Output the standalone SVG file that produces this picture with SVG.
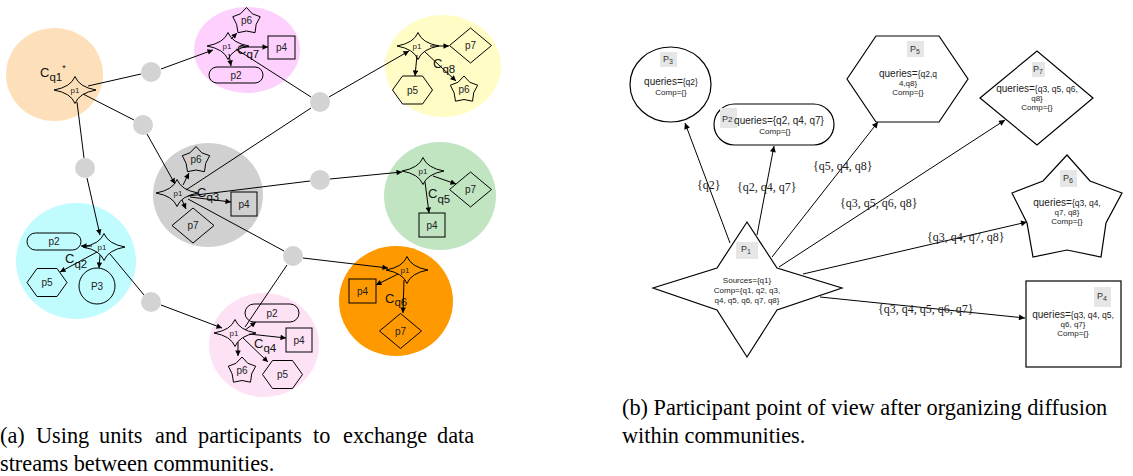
<svg xmlns="http://www.w3.org/2000/svg" xmlns:xlink="http://www.w3.org/1999/xlink" width="1133" height="476" viewBox="0 0 1133 476">
<style>
.sh{fill:none;stroke:#000;stroke-width:1}
.shb{fill:#fff;stroke:#000;stroke-width:1.2}
.ln{fill:none;stroke:#000;stroke-width:1}
.dot{fill:#d3d3d3}
.t8{font-family:"Liberation Sans",Arial,sans-serif;font-size:8px;text-anchor:middle;fill:#222}
.t10{font-family:"Liberation Sans",Arial,sans-serif;font-size:10px;text-anchor:middle;fill:#222}
.cl{font-family:"Liberation Sans",Arial,sans-serif;font-size:13px;fill:#111}
.sub{font-size:11.5px}
.q{font-family:"Liberation Sans",Arial,sans-serif;font-size:10px;text-anchor:middle;fill:#222}
.s{font-size:8.5px}
.cp{font-family:"Liberation Sans",Arial,sans-serif;font-size:8px;text-anchor:middle;fill:#222}
.lb{fill:#e6e6e6}
.pl{font-family:"Liberation Sans",Arial,sans-serif;font-size:9px;fill:#333}
.el{font-family:"Liberation Serif","Times New Roman",serif;font-size:12px;fill:#222}
.cap{font-family:"Liberation Serif","Times New Roman",serif;font-size:22.3px;fill:#000}
</style>
<defs>
<marker id="ar" viewBox="0 0 10 10" refX="10" refY="5" markerWidth="7" markerHeight="5.5" markerUnits="userSpaceOnUse" orient="auto"><path d="M0,0 L10,5 L0,10 Z" fill="#000"/></marker>
<marker id="arb" viewBox="0 0 10 10" refX="10" refY="5" markerWidth="9" markerHeight="6" markerUnits="userSpaceOnUse" orient="auto"><path d="M0,0 L10,5 L0,10 Z" fill="#000"/></marker>
<path id="star4" d="M-21,0 Q-4,-3 0,-13.5 Q4,-3 21,0 Q4,3 0,13.5 Q-4,3 -21,0 Z"/>
<path id="star5" d="M0,-13.5 L5.8,-7.2 L13.7,-4.3 L9.7,3.3 L8.5,11.7 L0,10 L-8.5,11.7 L-9.9,3.3 L-13.7,-4.3 L-6,-7.2 Z"/>
<path id="hex" d="M-20,0 L-10,-14 L10,-14 L20,0 L10,14 L-10,14 Z"/>
<path id="dia" d="M-21,0 L0,-17.5 L21,0 L0,17.5 Z"/>
</defs>

<!-- (a) communities -->
<g id="cq1">
<ellipse cx="54.5" cy="74.5" rx="48.5" ry="46.5" fill="#fde0b9"/>
<g id="cq1-p1"><use xlink:href="#star4" x="75" y="90" class="sh"/><text class="t8" x="75" y="93">p1</text></g>
<text class="cl" x="40" y="77">C<tspan class="sub" dy="4">q1</tspan><tspan font-size="9" dy="-10">*</tspan></text>
</g>

<g id="cq7">
<ellipse cx="247" cy="50" rx="53" ry="43" fill="#fdd0fd"/>
<g id="cq7-p1"><use xlink:href="#star4" x="228" y="46" class="sh"/><text class="t8" x="227" y="49">p1</text></g>
<g id="cq7-p6"><use xlink:href="#star5" x="246.5" y="21" class="sh"/><text class="t10" x="246.5" y="24">p6</text></g>
<g id="cq7-p4"><rect x="268" y="36" width="27" height="23" class="sh"/><text class="t10" x="281.5" y="51">p4</text></g>
<g id="cq7-p2"><rect x="209" y="67" width="54" height="16" rx="8" class="sh"/><text class="t10" x="236" y="79">p2</text></g>
<text class="cl" x="237" y="54">C<tspan class="sub" dy="4">q7</tspan></text>
</g>

<g id="cq8">
<ellipse cx="443" cy="66" rx="58" ry="51" fill="#fffcc5"/>
<g id="cq8-p1"><use xlink:href="#star4" x="418" y="46" class="sh"/><text class="t8" x="417" y="49">p1</text></g>
<g id="cq8-p7"><use xlink:href="#dia" x="470.5" y="45.5" class="sh"/><text class="t10" x="470.5" y="49">p7</text></g>
<g id="cq8-p5"><use xlink:href="#hex" x="412.5" y="90" class="sh"/><text class="t10" x="412.5" y="93.5">p5</text></g>
<g id="cq8-p6"><use xlink:href="#star5" x="464" y="89.5" class="sh"/><text class="t10" x="464" y="92.5">p6</text></g>
<text class="cl" x="433" y="68">C<tspan class="sub" dy="5">q8</tspan></text>
</g>

<g id="cq3">
<ellipse cx="208" cy="195" rx="55" ry="52" fill="#d0d0d0"/>
<g id="cq3-p1"><use xlink:href="#star4" x="177" y="193" class="sh"/><text class="t8" x="178" y="196">p1</text></g>
<g id="cq3-p6"><use xlink:href="#star5" x="196" y="160" class="sh"/><text class="t10" x="196" y="163">p6</text></g>
<g id="cq3-p4"><rect x="231" y="192" width="26" height="24" class="sh"/><text class="t10" x="244" y="207.5">p4</text></g>
<g id="cq3-p7"><use xlink:href="#dia" x="193" y="225.5" class="sh"/><text class="t10" x="193" y="229">p7</text></g>
<text class="cl" x="197" y="197">C<tspan class="sub" dy="4">q3</tspan></text>
</g>

<g id="cq5">
<ellipse cx="440" cy="196" rx="56" ry="54" fill="#c1e4c1"/>
<g id="cq5-p1"><use xlink:href="#star4" x="423" y="171" class="sh"/><text class="t8" x="423" y="174">p1</text></g>
<g id="cq5-p7"><use xlink:href="#dia" x="470.5" y="189.5" class="sh"/><text class="t10" x="470.5" y="193">p7</text></g>
<g id="cq5-p4"><rect x="419" y="213" width="26" height="24" class="sh"/><text class="t10" x="432" y="228.5">p4</text></g>
<text class="cl" x="428" y="198">C<tspan class="sub" dy="5">q5</tspan></text>
</g>

<g id="cq2">
<ellipse cx="76" cy="261" rx="60" ry="58" fill="#c0fbfe"/>
<g id="cq2-p1"><use xlink:href="#star4" x="104" y="247" class="sh"/><text class="t8" x="102" y="250">p1</text></g>
<g id="cq2-p2"><rect x="27" y="233" width="54" height="17" rx="8.5" class="sh"/><text class="t10" x="54" y="245">p2</text></g>
<g id="cq2-p5"><use xlink:href="#hex" x="47" y="282.5" class="sh"/><text class="t10" x="47" y="286">p5</text></g>
<g id="cq2-p3"><circle cx="97" cy="286" r="18" class="sh"/><text class="t10" x="97" y="289.5">P3</text></g>
<text class="cl" x="65" y="263">C<tspan class="sub" dy="5">q2</tspan></text>
</g>

<g id="cq6">
<ellipse cx="396" cy="301" rx="57" ry="55" fill="#ff9900"/>
<g id="cq6-p1"><use xlink:href="#star4" x="407" y="270" class="sh"/><text class="t8" x="405" y="273">p1</text></g>
<g id="cq6-p4"><rect x="349" y="279" width="27" height="24" class="sh"/><text class="t10" x="362.5" y="294.5">p4</text></g>
<g id="cq6-p7"><use xlink:href="#dia" x="400.5" y="331" class="sh"/><text class="t10" x="400.5" y="334.5">p7</text></g>
<text class="cl" x="385" y="303">C<tspan class="sub" dy="3">q6</tspan></text>
</g>

<g id="cq4">
<ellipse cx="264" cy="345" rx="55" ry="52" fill="#fde2f6"/>
<g id="cq4-p1"><use xlink:href="#star4" x="235" y="333" class="sh"/><text class="t8" x="234" y="336">p1</text></g>
<g id="cq4-p2"><rect x="245" y="304" width="54" height="18" rx="9" class="sh"/><text class="t10" x="272" y="316.5">p2</text></g>
<g id="cq4-p4"><rect x="286" y="328" width="26" height="24" class="sh"/><text class="t10" x="299" y="343.5">p4</text></g>
<g id="cq4-p6"><use xlink:href="#star5" x="242" y="370.5" class="sh"/><text class="t10" x="242" y="373.5">p6</text></g>
<g id="cq4-p5"><use xlink:href="#hex" x="282.5" y="374.5" class="sh"/><text class="t10" x="282.5" y="378">p5</text></g>
<text class="cl" x="254" y="348">C<tspan class="sub" dy="4">q4</tspan></text>
</g>

<!-- connectors -->
<g id="connectors">
<!-- (a) intra-community -->
<line class="ln" x1="240" y1="47" x2="268" y2="47" marker-end="url(#ar)"/>
<line class="ln" x1="231" y1="39" x2="237" y2="33" marker-end="url(#ar)"/>
<line class="ln" x1="229" y1="54" x2="231" y2="66" marker-end="url(#ar)"/>
<line class="ln" x1="430" y1="46" x2="449" y2="46" marker-end="url(#ar)"/>
<line class="ln" x1="417" y1="55" x2="415" y2="76" marker-end="url(#ar)"/>
<line class="ln" x1="425" y1="52" x2="456" y2="81" marker-end="url(#ar)"/>
<line class="ln" x1="183" y1="185" x2="189" y2="173" marker-end="url(#ar)"/>
<line class="ln" x1="190" y1="197" x2="231" y2="202" marker-end="url(#ar)"/>
<line class="ln" x1="182" y1="200" x2="186" y2="209" marker-end="url(#ar)"/>
<line class="ln" x1="433" y1="176" x2="456" y2="184" marker-end="url(#ar)"/>
<line class="ln" x1="425" y1="182" x2="429" y2="213" marker-end="url(#ar)"/>
<line class="ln" x1="92" y1="246" x2="81" y2="246" marker-end="url(#ar)"/>
<line class="ln" x1="97" y1="252" x2="60" y2="272" marker-end="url(#ar)"/>
<line class="ln" x1="100" y1="255" x2="99" y2="268" marker-end="url(#ar)"/>
<line class="ln" x1="398" y1="274" x2="376" y2="285" marker-end="url(#ar)"/>
<line class="ln" x1="404" y1="280" x2="403" y2="313" marker-end="url(#ar)"/>
<line class="ln" x1="245" y1="330" x2="256" y2="322" marker-end="url(#ar)"/>
<line class="ln" x1="249" y1="334" x2="286" y2="338" marker-end="url(#ar)"/>
<line class="ln" x1="238" y1="342" x2="238" y2="356" marker-end="url(#ar)"/>
<line class="ln" x1="243" y1="338" x2="268" y2="362" marker-end="url(#ar)"/>
<!-- (a) inter-community via units -->
<line class="ln" x1="88" y1="86" x2="141" y2="74"/>
<line class="ln" x1="161" y1="69" x2="213" y2="50" marker-end="url(#ar)"/>
<line class="ln" x1="83" y1="94" x2="134" y2="120"/>
<line class="ln" x1="147" y1="134" x2="175" y2="184" marker-end="url(#ar)"/>
<line class="ln" x1="77" y1="102" x2="84" y2="158"/>
<line class="ln" x1="87" y1="178" x2="100" y2="235" marker-end="url(#ar)"/>
<line class="ln" x1="236" y1="49" x2="311" y2="97"/>
<line class="ln" x1="186" y1="190" x2="311" y2="108"/>
<line class="ln" x1="329" y1="97" x2="409" y2="51" marker-end="url(#ar)"/>
<line class="ln" x1="188" y1="196" x2="310" y2="181"/>
<line class="ln" x1="330" y1="179" x2="402" y2="172" marker-end="url(#ar)"/>
<line class="ln" x1="188" y1="199" x2="284" y2="251"/>
<line class="ln" x1="303" y1="258" x2="388" y2="268" marker-end="url(#ar)"/>
<line class="ln" x1="287" y1="265" x2="245" y2="327"/>
<line class="ln" x1="110" y1="254" x2="144" y2="295"/>
<line class="ln" x1="161" y1="305" x2="222" y2="328" marker-end="url(#ar)"/>
<!-- (b) -->
<line class="ln" x1="730" y1="243" x2="685" y2="123" marker-end="url(#arb)"/>
<line class="ln" x1="757" y1="235" x2="774" y2="146" marker-end="url(#arb)"/>
<line class="ln" x1="772" y1="257" x2="878" y2="122" marker-end="url(#arb)"/>
<line class="ln" x1="779" y1="267" x2="1005" y2="120" marker-end="url(#arb)"/>
<line class="ln" x1="803" y1="274" x2="1027" y2="222" marker-end="url(#arb)"/>
<line class="ln" x1="820" y1="297" x2="1025" y2="318" marker-end="url(#arb)"/>
<text class="el" x="697" y="189">{q2}</text>
<text class="el" x="737" y="191">{q2, q4, q7}</text>
<text class="el" x="813" y="170">{q5, q4, q8}</text>
<text class="el" x="840" y="207">{q3, q5, q6, q8}</text>
<text class="el" x="927" y="241">{q3, q4, q7, q8}</text>
<text class="el" x="878" y="313">{q3, q4, q5, q6, q7}</text>
</g>

<!-- (a) units -->
<g id="units">
<circle id="u1" class="dot" cx="151" cy="72" r="10"/>
<circle id="u2" class="dot" cx="143" cy="125" r="10"/>
<circle id="u3" class="dot" cx="85" cy="168" r="10"/>
<circle id="u4" class="dot" cx="320" cy="102" r="10"/>
<circle id="u5" class="dot" cx="320" cy="180" r="10"/>
<circle id="u6" class="dot" cx="293" cy="256" r="10"/>
<circle id="u7" class="dot" cx="151" cy="302" r="10"/>
</g>

<!-- (b) participants -->
<g id="b-p3">
<ellipse cx="670.5" cy="84.5" rx="40.5" ry="37.5" class="shb"/>
<rect class="lb" x="660" y="52" width="17" height="15"/>
<text class="pl" x="663" y="62">P<tspan font-size="7" dy="2">3</tspan></text>
<text class="q" x="671" y="85">queries=<tspan class="s">{q2}</tspan></text>
<text class="cp" x="671" y="95">Comp={}</text>
</g>
<g id="b-p2">
<rect x="714" y="104" width="120" height="41" rx="20.5" class="shb"/>
<rect class="lb" x="720" y="108" width="17" height="20"/>
<text class="pl" x="722" y="122">P<tspan font-size="8">2</tspan></text>
<text class="q" x="779" y="124">queries={q2, q4, q7}</text>
<text class="cp" x="775" y="134">Comp={}</text>
</g>
<g id="b-p5">
<polygon points="847,79 876,36 939,36 968,79 939,122 876,122" class="shb"/>
<rect class="lb" x="907" y="41" width="17" height="16"/>
<text class="pl" x="910" y="52">P<tspan font-size="7" dy="2">5</tspan></text>
<text class="q" x="908" y="77">queries=<tspan class="s">{q2,q</tspan></text>
<text class="cp" x="908" y="86">4,q8}</text>
<text class="cp" x="908" y="95">Comp={}</text>
</g>
<g id="b-p7">
<polygon points="980,98 1037,51 1093,98 1037,145" class="shb"/>
<rect class="lb" x="1032" y="62" width="13" height="15"/>
<text class="pl" x="1033" y="72">P<tspan font-size="7" dy="2">7</tspan></text>
<text class="q" x="1037" y="92">queries=<tspan class="s">{q3, q5, q6,</tspan></text>
<text class="cp" x="1037" y="101">q8}</text>
<text class="cp" x="1037" y="110">Comp={}</text>
</g>
<g id="b-p6">
<polygon points="1067,155 1090,181 1122,193 1106,223 1101,257 1067,250 1033,257 1027,223 1012,193 1043,181" class="shb"/>
<rect class="lb" x="1060" y="170" width="17" height="17"/>
<text class="pl" x="1063" y="181">P<tspan font-size="7" dy="2">6</tspan></text>
<text class="q" x="1067" y="206">queries=<tspan class="s">{q3, q4,</tspan></text>
<text class="cp" x="1067" y="215">q7, q8}</text>
<text class="cp" x="1067" y="224">Comp={}</text>
</g>
<g id="b-p4">
<rect x="1026" y="281" width="95" height="86" class="shb"/>
<rect class="lb" x="1094" y="287" width="17" height="20"/>
<text class="pl" x="1097" y="299">P<tspan font-size="7" dy="2">4</tspan></text>
<text class="q" x="1073" y="318">queries=<tspan class="s">{q3, q4, q5,</tspan></text>
<text class="cp" x="1073" y="327">q6, q7}</text>
<text class="cp" x="1073" y="336">Comp={}</text>
</g>
<g id="b-p1">
<polygon points="747,222 777,268 842,288 777,310 747,357 717,310 653,288 717,268" class="shb"/>
<rect class="lb" x="736" y="242" width="22" height="17"/>
<text class="pl" x="741" y="252">P<tspan font-size="7" dy="2">1</tspan></text>
<text class="cp" x="747" y="283" font-size="8.5">Sources={q1}</text>
<text class="cp" x="747" y="293" font-size="8.5">Comp={q1, q2, q3,</text>
<text class="cp" x="747" y="303" font-size="8.5">q4, q5, q6, q7, q8}</text>
</g>

<!-- captions -->
<g id="captions">
<text class="cap" y="443"><tspan x="0">(a)</tspan><tspan x="36">Using</tspan><tspan x="99">units</tspan><tspan x="155">and</tspan><tspan x="198">participants</tspan><tspan x="313">to</tspan><tspan x="343">exchange</tspan><tspan x="437">data</tspan></text>
<text class="cap" x="0" y="471">streams between communities.</text>
<text class="cap" x="622" y="415">(b) Participant point of view after organizing diffusion</text>
<text class="cap" x="622" y="443">within communities.</text>
</g>
</svg>
